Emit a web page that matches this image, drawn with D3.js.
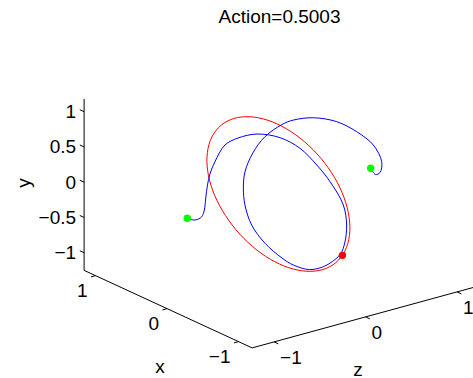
<!DOCTYPE html>
<html>
<head>
<meta charset="utf-8">
<script src="https://cdn.jsdelivr.net/npm/d3@7"></script>
<style>
  body { margin: 0; background: #fff; }
  svg text { font-family: "Liberation Sans", Arial, sans-serif; font-size: 19px; fill: #000; }
</style>
</head>
<body>
<div id="chart"></div>
<script>
// axis limits and ticks
const xLim = [-1.19, 1.16];
const yLim = [-1.25, 1.18];
const zLim = [-1.24, 1.3];
const xTicks = [-1, 0, 1];
const yTicks = [-1, -0.5, 0, 0.5, 1];
const zTicks = [-1, 0, 1];
const titleText = "Action=0.5003";

// closed orbit (red), [x, y, z]
const redOrbit = [
  [-0.288, -1.037, 0.380], [-0.221, -1.135, 0.291], [-0.137, -1.160, 0.182],
  [-0.044, -1.110, 0.058], [0.053, -0.989, -0.070], [0.147, -0.805, -0.194],
  [0.232, -0.570, -0.306], [0.302, -0.301, -0.398], [0.352, -0.016, -0.465],
  [0.379, 0.266, -0.500], [0.380, 0.526, -0.502], [0.357, 0.745, -0.471],
  [0.310, 0.909, -0.409], [0.243, 1.007, -0.320], [0.159, 1.032, -0.210],
  [0.066, 0.982, -0.087], [-0.031, 0.861, 0.041], [-0.125, 0.677, 0.165],
  [-0.210, 0.443, 0.277], [-0.280, 0.174, 0.370], [-0.330, -0.112, 0.436],
  [-0.357, -0.394, 0.471], [-0.359, -0.653, 0.473], [-0.335, -0.873, 0.442]
];

// path (blue), [x, y, z]
const bluePath = [
  [0.485, -0.408, -0.640], [0.445, -0.433, -0.587], [0.410, -0.386, -0.541],
  [0.396, -0.291, -0.523], [0.389, -0.121, -0.513], [0.380, 0.064, -0.501],
  [0.367, 0.220, -0.484], [0.341, 0.394, -0.450], [0.289, 0.631, -0.381],
  [0.221, 0.730, -0.292], [0.122, 0.787, -0.161], [0.002, 0.735, -0.003],
  [-0.101, 0.584, 0.134], [-0.188, 0.348, 0.249], [-0.258, 0.111, 0.340],
  [-0.327, -0.220, 0.431], [-0.344, -0.504, 0.454], [-0.334, -0.759, 0.441],
  [-0.312, -0.915, 0.412], [-0.270, -1.021, 0.357], [-0.223, -1.095, 0.294],
  [-0.151, -1.136, 0.199], [-0.067, -1.071, 0.088], [-0.008, -0.972, 0.010],
  [0.081, -0.763, -0.106], [0.150, -0.504, -0.198], [0.185, -0.220, -0.244],
  [0.193, 0.021, -0.255], [0.185, 0.248, -0.244], [0.144, 0.518, -0.190],
  [0.081, 0.749, -0.106], [-0.008, 0.922, 0.010], [-0.067, 0.985, 0.088],
  [-0.171, 1.018, 0.225], [-0.292, 0.962, 0.386], [-0.396, 0.820, 0.523],
  [-0.483, 0.631, 0.637], [-0.526, 0.394, 0.695], [-0.518, 0.241, 0.683],
  [-0.494, 0.213, 0.652], [-0.469, 0.301, 0.619]
];

const endPoints = [[0.485, -0.408, -0.640], [-0.469, 0.301, 0.619]];
const orbitPoint = [[-0.322, -0.934, 0.425]];

const width = 473, height = 378;
const origin = [280.5, 189.5];

// orthographic view: screen offset per data unit along each axis
const xToSx = d3.scaleLinear().domain([0, 1]).range([0, -71.5]);
const xToSy = d3.scaleLinear().domain([0, 1]).range([0, -33]);
const yToSy = d3.scaleLinear().domain([0, 1]).range([0, -70.5]);
const zToSx = d3.scaleLinear().domain([0, 1]).range([0, 91.5]);
const zToSy = d3.scaleLinear().domain([0, 1]).range([0, -25]);

function proj(p) {
  return [origin[0] + xToSx(p[0]) + zToSx(p[2]),
          origin[1] + xToSy(p[0]) + yToSy(p[1]) + zToSy(p[2])];
}

const svg = d3.select("#chart").append("svg")
  .attr("width", width).attr("height", height);

const axes = svg.append("g").attr("stroke", "#000").attr("stroke-width", 1).attr("fill", "none");

function seg(a, b) {
  const p = proj(a), q = proj(b);
  axes.append("line").attr("x1", p[0]).attr("y1", p[1]).attr("x2", q[0]).attr("y2", q[1]);
}

const fmt = v => String(v).replace("-", "\u2212");

// y axis at back-left edge
seg([xLim[1], yLim[0], zLim[0]], [xLim[1], yLim[1], zLim[0]]);
// x axis
seg([xLim[0], yLim[0], zLim[0]], [xLim[1], yLim[0], zLim[0]]);
// z axis
seg([xLim[0], yLim[0], zLim[0]], [xLim[0], yLim[0], zLim[1]]);

yTicks.forEach(v => {
  const p = proj([xLim[1], v, zLim[0]]);
  axes.append("line").attr("x1", p[0]).attr("y1", p[1]).attr("x2", p[0] - 4.3).attr("y2", p[1] - 2);
  svg.append("text").attr("x", p[0] - 8).attr("y", p[1])
    .attr("text-anchor", "end").attr("dominant-baseline", "central").text(fmt(v));
});

xTicks.forEach(v => {
  const p = proj([v, yLim[0], zLim[0]]);
  axes.append("line").attr("x1", p[0]).attr("y1", p[1]).attr("x2", p[0] - 4.6).attr("y2", p[1] + 1.3);
  svg.append("text").attr("x", p[0] - 8).attr("y", p[1] + 15)
    .attr("text-anchor", "end").attr("dominant-baseline", "central").text(fmt(v));
});

zTicks.forEach(v => {
  const p = proj([xLim[0], yLim[0], v]);
  axes.append("line").attr("x1", p[0]).attr("y1", p[1]).attr("x2", p[0] + 4.3).attr("y2", p[1] + 2);
  svg.append("text").attr("x", p[0] + 6).attr("y", p[1] + 16)
    .attr("text-anchor", "start").attr("dominant-baseline", "central").text(fmt(v));
});

// axis labels
svg.append("text").attr("transform", "translate(23,183) rotate(-90)")
  .attr("text-anchor", "middle").attr("dominant-baseline", "central").text("y");
svg.append("text").attr("x", 160).attr("y", 366)
  .attr("text-anchor", "middle").attr("dominant-baseline", "central").text("x");
svg.append("text").attr("x", 358).attr("y", 369)
  .attr("text-anchor", "middle").attr("dominant-baseline", "central").text("z");

svg.append("text").attr("x", 279.5).attr("y", 23)
  .attr("text-anchor", "middle").text(titleText);

// curves
svg.append("path")
  .attr("d", d3.line().x(d => proj(d)[0]).y(d => proj(d)[1]).curve(d3.curveCatmullRomClosed.alpha(0.5))(redOrbit))
  .attr("fill", "none").attr("stroke", "#ff0000").attr("stroke-width", 1);

svg.append("path")
  .attr("d", d3.line().x(d => proj(d)[0]).y(d => proj(d)[1]).curve(d3.curveCatmullRom.alpha(0.5))(bluePath))
  .attr("fill", "none").attr("stroke", "#0000ff").attr("stroke-width", 1);

svg.selectAll("circle.ends").data(endPoints).enter().append("circle")
  .attr("class", "ends")
  .attr("cx", d => proj(d)[0]).attr("cy", d => proj(d)[1])
  .attr("r", 3.7).attr("fill", "#00ff00");

svg.selectAll("circle.orb").data(orbitPoint).enter().append("circle")
  .attr("class", "orb")
  .attr("cx", d => proj(d)[0]).attr("cy", d => proj(d)[1])
  .attr("r", 3.7).attr("fill", "#ff0000");
</script>
</body>
</html>
